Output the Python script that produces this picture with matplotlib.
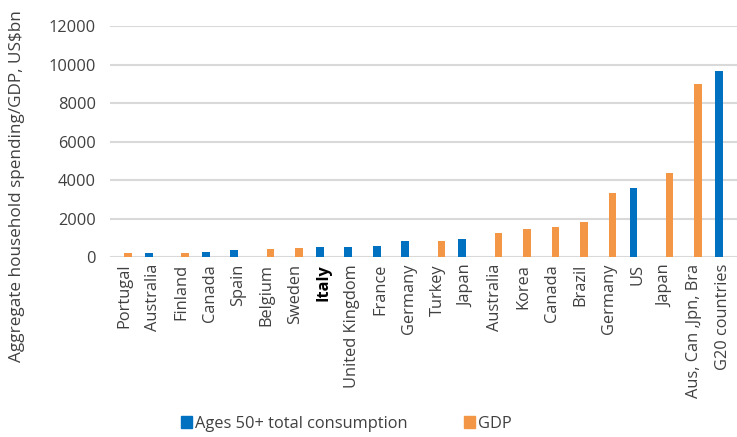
import numpy as np
import matplotlib.pyplot as plt
from matplotlib.patches import Patch

plt.rcParams['font.family'] = ['Open Sans', 'DejaVu Sans']

categories = ["Portugal", "Australia", "Finland", "Canada", "Spain", "Belgium",
              "Sweden", "Italy", "United Kingdom", "France", "Germany", "Turkey",
              "Japan", "Australia", "Korea", "Canada", "Brazil", "Germany", "US",
              "Japan", "Aus, Can ,Jpn, Bra", "G20 countries"]

# ages 50+ consumption (blue), 0 where the category is a GDP bar
consumption = [0, 225, 0, 245, 345, 0, 0, 520, 535, 590, 840, 0,
               935, 0, 0, 0, 0, 0, 3585, 0, 0, 9650]
# GDP (orange)
gdp = [190, 0, 225, 0, 0, 430, 485, 0, 0, 0, 0, 850,
       0, 1250, 1455, 1545, 1800, 3345, 0, 4385, 8970, 0]

blue = "#0070C0"
orange = "#F39645"
txt = "#404040"

fig = plt.figure(figsize=(7.37, 4.37), dpi=100)
ax = fig.add_axes([0.149, 0.412, 0.851, 0.528])

x = np.arange(len(categories))
w = 0.27
ax.bar(x - w / 2, consumption, width=w, color=blue)
ax.bar(x + w / 2, gdp, width=w, color=orange)

ax.set_xlim(-0.5, len(categories) - 0.5)
ax.set_ylim(0, 12000)
ax.set_yticks(range(0, 12001, 2000))
ax.yaxis.grid(True, color="#D9D9D9", linewidth=1.5)
ax.set_axisbelow(True)
for s in ax.spines.values():
    s.set_visible(False)
ax.tick_params(length=0, labelsize=11.8, colors=txt)
ax.tick_params(axis='y', pad=10)
ax.tick_params(axis='x', pad=5)
ax.set_xticks(x)
ax.set_xticklabels(categories, rotation=90)
for lab in ax.get_xticklabels():
    if lab.get_text() == "Italy":
        lab.set_fontweight("bold")
        lab.set_color("black")

fig.text(0.023, 0.575, "Aggregate household spending/GDP, US$bn", rotation=90,
         ha="center", va="center", fontsize=12.3, color=txt)

handles = [Patch(color=blue, label="Ages 50+ total consumption"),
           Patch(color=orange, label="GDP")]
fig.legend(handles=handles, loc="center", bbox_to_anchor=(0.47, 0.03), ncol=2,
           frameon=False, fontsize=11.8, handlelength=0.7, handleheight=0.7,
           handletextpad=0.2, columnspacing=3.4, labelcolor=txt)

fig.savefig("out.png", dpi=100)
